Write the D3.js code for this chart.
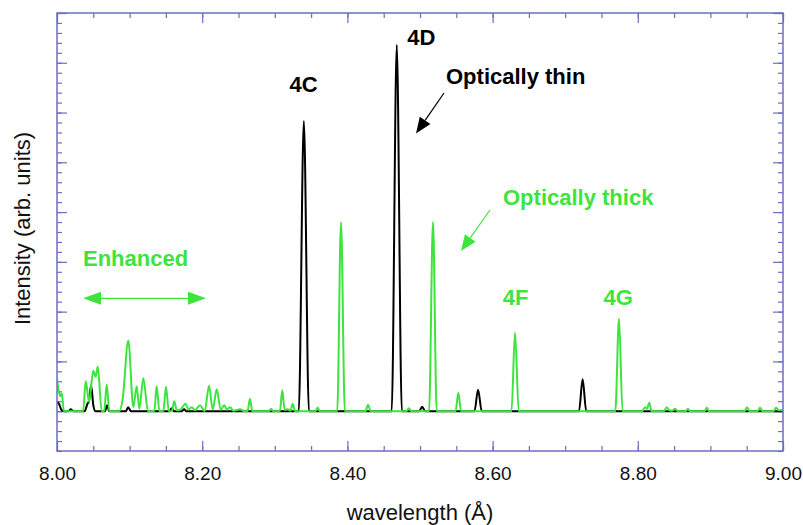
<!DOCTYPE html>
<html>
<head>
<meta charset="utf-8">
<script src="https://cdn.jsdelivr.net/npm/d3@7"></script>
<style>
  html, body { margin: 0; padding: 0; background: #ffffff; }
  svg { display: block; }
  text { font-family: "Liberation Sans", Arial, Helvetica, sans-serif; }
</style>
</head>
<body>
<svg id="chart" width="803" height="525"></svg>
<script>
// Spectrum traced as [wavelength (Å), intensity] vertices.
// Optically thin model (black)
const thinSpectrum = [
  [8.000, 0.19], [8.003, 0.14], [8.006, 0.03], [8.010, 0],
  [8.016, 0], [8.019, 0.04], [8.022, 0],
  [8.038, 0], [8.042, 0.15], [8.044, 0.20], [8.047, 0.52], [8.050, 0.12], [8.053, 0],
  [8.066, 0], [8.069, 0.12], [8.072, 0],
  [8.095, 0], [8.098, 0.08], [8.102, 0],
  [8.155, 0], [8.158, 0.06], [8.161, 0],
  [8.172, 0], [8.175, 0.04], [8.178, 0],
  [8.333, 0], [8.340, 5.83], [8.347, 0],
  [8.461, 0], [8.468, 7.36], [8.475, 0],
  [8.499, 0], [8.503, 0.09], [8.507, 0],
  [8.575, 0], [8.580, 0.43], [8.585, 0],
  [8.719, 0], [8.724, 0.64], [8.729, 0],
  [9.000, 0]
];

// Optically thick model (green)
const thickSpectrum = [
  [8.000, 0.64], [8.0025, 0.40], [8.0045, 0.30], [8.0065, 0.36], [8.0095, 0],
  [8.036, 0], [8.0395, 0.60], [8.0441, 0.19], [8.050, 0.81], [8.0533, 0.69], [8.0561, 0.90], [8.0616, 0],
  [8.065, 0], [8.0685, 0.54], [8.072, 0],
  [8.086, 0], [8.0905, 0.25], [8.0982, 1.42], [8.1051, 0.08], [8.1098, 0.50], [8.1134, 0.05], [8.1189, 0.66], [8.1253, 0],
  [8.134, 0], [8.1373, 0.50], [8.141, 0],
  [8.1465, 0], [8.1501, 0.49], [8.154, 0],
  [8.158, 0], [8.1616, 0.20], [8.165, 0.02], [8.1694, 0.03], [8.1773, 0.15], [8.181, 0.03],
  [8.1855, 0.08], [8.190, 0.02], [8.197, 0.12], [8.2035, 0], [8.2094, 0.51], [8.2145, 0.03],
  [8.220, 0.44], [8.2255, 0.03], [8.2304, 0.12], [8.234, 0.03], [8.2383, 0.08], [8.243, 0.01],
  [8.2521, 0.04], [8.258, 0],
  [8.2625, 0], [8.2658, 0.25], [8.269, 0],
  [8.292, 0], [8.2948, 0.05], [8.298, 0],
  [8.307, 0], [8.3103, 0.42], [8.3135, 0.03], [8.318, 0.04], [8.3215, 0.01], [8.3247, 0.15], [8.328, 0],
  [8.356, 0], [8.359, 0.07], [8.362, 0],
  [8.386, 0], [8.3912, 3.80], [8.3965, 0],
  [8.425, 0], [8.4284, 0.13], [8.432, 0],
  [8.481, 0], [8.4848, 0.06], [8.488, 0],
  [8.5125, 0], [8.5179, 3.80], [8.523, 0],
  [8.549, 0], [8.5528, 0.37], [8.5565, 0],
  [8.626, 0], [8.6309, 1.58], [8.636, 0],
  [8.769, 0], [8.7741, 1.86], [8.779, 0],
  [8.806, 0], [8.8099, 0.08], [8.8125, 0.05], [8.8158, 0.17], [8.819, 0],
  [8.836, 0], [8.8398, 0.08], [8.8435, 0.02], [8.8475, 0.01], [8.8512, 0.05], [8.855, 0],
  [8.866, 0], [8.8691, 0.05], [8.872, 0],
  [8.892, 0], [8.8949, 0.07], [8.898, 0],
  [8.947, 0], [8.9504, 0.08], [8.954, 0],
  [8.965, 0], [8.9683, 0.07], [8.972, 0],
  [8.987, 0], [8.9904, 0.07], [8.994, 0.02], [9.000, 0.02]
];

// Axis ticks
const wavelengthMajorTicks = [8.0, 8.2, 8.4, 8.6, 8.8, 9.0];
const wavelengthTickLabels = ["8.00", "8.20", "8.40", "8.60", "8.80", "9.00"];
const wavelengthMinorTicks = d3.range(0, 21).map(i => +(8 + i * 0.05).toFixed(2));
const intensityMajorTicks = d3.range(0, 9);
const intensityMinorTicks = d3.range(0, 45).map(i => +(-0.8 + i * 0.2).toFixed(1));

// Line labels: [text, wavelength, intensity of label baseline]
const thinLabels = [["4C", 8.3395, 6.42], ["4D", 8.4825, 7.35]];
const thickLabels = [["4F", 8.6316, 2.14], ["4G", 8.7731, 2.14]];

const W = 803, H = 525;
const margin = { left: 57, right: 20, top: 13, bottom: 74 };
const plotW = W - margin.left - margin.right;
const plotH = H - margin.top - margin.bottom;

const GREEN = "#3de43d";
const FRAME = "#6e6ec0";

const svg = d3.select("#chart");
const g = svg.append("g").attr("transform", `translate(${margin.left},${margin.top})`);

const x = d3.scaleLinear().domain([8.0, 9.0]).range([0, plotW]);
const y = d3.scaleLinear().domain([-0.8, 8.0]).range([plotH, 0]);

g.append("clipPath").attr("id", "plot-clip")
  .append("rect").attr("x", 0).attr("y", 0).attr("width", plotW).attr("height", plotH);

// Tick marks on all four sides, pointing inward
function styleAxis(sel) {
  sel.select(".domain").remove();
  sel.selectAll(".tick line").attr("stroke", FRAME).attr("stroke-width", 1.2);
}
function tickAxis(axisFn, scale, values, size, translate) {
  const a = g.append("g").attr("transform", translate || null)
    .call(axisFn(scale).tickValues(values).tickSize(size).tickFormat(""));
  styleAxis(a);
  return a;
}
tickAxis(d3.axisBottom, x, wavelengthMinorTicks, -5, `translate(0,${plotH})`);
tickAxis(d3.axisBottom, x, wavelengthMajorTicks, -10, `translate(0,${plotH})`);
tickAxis(d3.axisTop, x, wavelengthMinorTicks, -5);
tickAxis(d3.axisTop, x, wavelengthMajorTicks, -10);
tickAxis(d3.axisLeft, y, intensityMinorTicks, -5);
tickAxis(d3.axisLeft, y, intensityMajorTicks, -10);
tickAxis(d3.axisRight, y, intensityMinorTicks, -5, `translate(${plotW},0)`);
tickAxis(d3.axisRight, y, intensityMajorTicks, -10, `translate(${plotW},0)`);

// Wavelength labels
const labelAxis = g.append("g").attr("transform", `translate(0,${plotH})`)
  .call(d3.axisBottom(x).tickValues(wavelengthMajorTicks).tickSize(0)
    .tickFormat((d, i) => wavelengthTickLabels[i]));
labelAxis.select(".domain").remove();
labelAxis.selectAll("text")
  .attr("y", 28.7).attr("dy", null)
  .attr("fill", "#111").attr("font-size", 19)
  .attr("font-family", "\"Liberation Sans\", Arial, sans-serif");

// Spectra
const line = d3.line()
  .x(d => x(d[0]))
  .y(d => y(d[1]))
  .curve(d3.curveMonotoneX);

const plot = g.append("g").attr("clip-path", "url(#plot-clip)");
plot.append("path").datum(thinSpectrum)
  .attr("d", line).attr("fill", "none")
  .attr("stroke", "#000").attr("stroke-width", 2).attr("stroke-linejoin", "round");
plot.append("path").datum(thickSpectrum)
  .attr("d", line).attr("fill", "none")
  .attr("stroke", GREEN).attr("stroke-width", 2).attr("stroke-linejoin", "round");

// Frame
g.append("rect").attr("x", 0).attr("y", 0).attr("width", plotW).attr("height", plotH)
  .attr("fill", "none").attr("stroke", FRAME).attr("stroke-width", 1.5);

// Peak labels
const ann = g.append("g").attr("font-weight", "bold").attr("font-size", 22);
ann.selectAll("text.thin").data(thinLabels).join("text")
  .attr("class", "thin")
  .attr("x", d => x(d[1])).attr("y", d => y(d[2]))
  .attr("text-anchor", (d, i) => i === 0 ? "middle" : "start")
  .attr("fill", "#000").text(d => d[0]);
ann.selectAll("text.thick").data(thickLabels).join("text")
  .attr("class", "thick")
  .attr("x", d => x(d[1])).attr("y", d => y(d[2]))
  .attr("text-anchor", "middle")
  .attr("fill", GREEN).text(d => d[0]);

// Annotation text (page coordinates)
const notes = svg.append("g").attr("font-weight", "bold").attr("font-size", 22);
notes.append("text").attr("x", 446).attr("y", 83.5).attr("fill", "#000").text("Optically thin");
notes.append("text").attr("x", 503).attr("y", 205).attr("fill", GREEN).text("Optically thick");
notes.append("text").attr("x", 83).attr("y", 265.7).attr("fill", GREEN).text("Enhanced");

// Arrows
function arrow(x1, y1, x2, y2, color, headLen, headHalf) {
  const ang = Math.atan2(y2 - y1, x2 - x1);
  const bx = x2 - headLen * Math.cos(ang), by = y2 - headLen * Math.sin(ang);
  svg.append("line").attr("x1", x1).attr("y1", y1).attr("x2", bx).attr("y2", by)
    .attr("stroke", color).attr("stroke-width", 1.2);
  const px = -Math.sin(ang) * headHalf, py = Math.cos(ang) * headHalf;
  svg.append("path")
    .attr("d", `M${x2},${y2}L${bx + px},${by + py}L${bx - px},${by - py}Z`)
    .attr("fill", color);
}
arrow(444, 93, 416, 133.5, "#000", 16, 6.5);
arrow(490, 210, 461, 251, GREEN, 16, 6.5);
// Double-headed "Enhanced" span
arrow(144, 298.3, 83, 298.3, GREEN, 18, 6.5);
arrow(144, 298.3, 206, 298.3, GREEN, 18, 6.5);

// Axis titles
svg.append("text")
  .attr("x", margin.left + plotW / 2).attr("y", 519.5)
  .attr("text-anchor", "middle").attr("font-size", 22).attr("fill", "#111")
  .text("wavelength (Å)");
svg.append("text")
  .attr("transform", "translate(29.5,228.5) rotate(-90)")
  .attr("text-anchor", "middle").attr("font-size", 22).attr("fill", "#111")
  .text("Intensity (arb. units)");
</script>
</body>
</html>
